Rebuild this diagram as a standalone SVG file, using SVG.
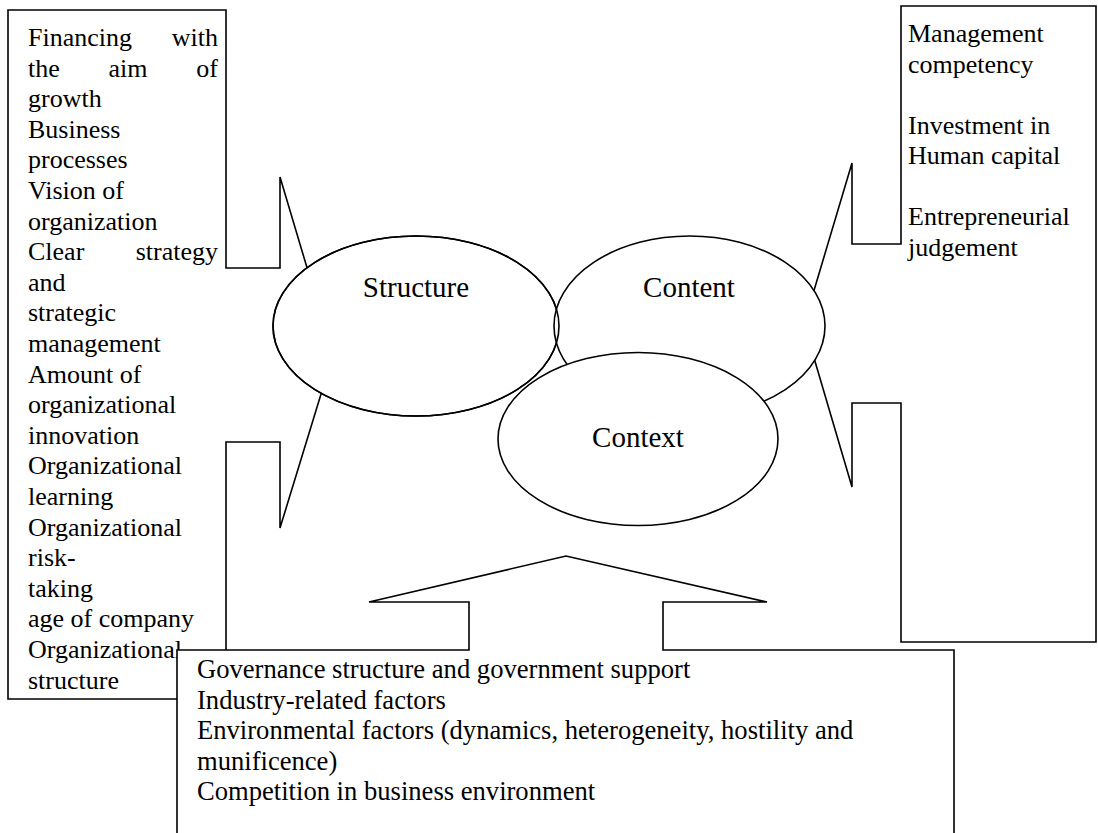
<svg xmlns="http://www.w3.org/2000/svg" width="1098" height="833" viewBox="0 0 1098 833">
<style>
.shape{fill:#fff;stroke:#000;stroke-width:1.6;stroke-linejoin:miter}
.outline{fill:none;stroke:#000;stroke-width:1.6}
.t{font-family:"Liberation Serif","Times New Roman",serif;font-size:26px;fill:#000}
.tb{font-family:"Liberation Serif","Times New Roman",serif;font-size:26.6px;fill:#000}
.lbl{font-family:"Liberation Serif","Times New Roman",serif;font-size:29px;fill:#000;text-anchor:middle}
.end{text-anchor:end}
</style>
<rect width="1098" height="833" fill="#fff"/>
<g id="connectors"></g>
<g id="structure-callout">
<polygon class="shape" points="8,10 226,10 226,268 280,268 280,177 333,355 280,528 280,442 226,442 226,699 8,699"/>
<text class="t" x="28" y="46">Financing</text><text class="t end" x="218" y="46">with</text>
<text class="t" x="28" y="76.6">the</text><text class="t" x="108.5" y="76.6">aim</text><text class="t end" x="218" y="76.6">of</text>
<text class="t" x="28" y="107.2">growth</text>
<text class="t" x="28" y="137.8">Business</text>
<text class="t" x="28" y="168.4">processes</text>
<text class="t" x="28" y="199">Vision of</text>
<text class="t" x="28" y="229.6">organization</text>
<text class="t" x="28" y="260.2">Clear</text><text class="t end" x="218" y="260.2">strategy</text>
<text class="t" x="28" y="290.8">and</text>
<text class="t" x="28" y="321.4">strategic</text>
<text class="t" x="28" y="352">management</text>
<text class="t" x="28" y="382.6">Amount of</text>
<text class="t" x="28" y="413.2">organizational</text>
<text class="t" x="28" y="443.8">innovation</text>
<text class="t" x="28" y="474.4">Organizational</text>
<text class="t" x="28" y="505">learning</text>
<text class="t" x="28" y="535.6">Organizational</text>
<text class="t" x="28" y="566.2">risk-</text>
<text class="t" x="28" y="596.8">taking</text>
<text class="t" x="28" y="627.4">age of company</text>
<text class="t" x="28" y="658">Organizational</text>
<text class="t" x="28" y="688.6">structure</text>
</g>
<g id="content-callout">
<polygon class="shape" points="901,6 1096,6 1096,642 901,642 901,403 852,403 852,487 804,324 852,163 852,244 901,244"/>
<text class="t" x="908" y="42">Management</text>
<text class="t" x="908" y="72.5">competency</text>
<text class="t" x="908" y="133.5">Investment in</text>
<text class="t" x="908" y="164">Human capital</text>
<text class="t" x="908" y="225">Entrepreneurial</text>
<text class="t" x="908" y="255.5">judgement</text>
</g>
<g id="structure">
<ellipse class="shape" cx="416" cy="326" rx="143" ry="90"/>
<text class="lbl" x="416" y="297">Structure</text>
</g>
<g id="content">
<ellipse class="shape" cx="689.5" cy="326" rx="135.5" ry="90"/>
<ellipse class="outline" cx="416" cy="326" rx="143" ry="90"/>
<text class="lbl" x="689" y="297">Content</text>
</g>
<g id="context">
<ellipse class="shape" cx="638" cy="439" rx="140" ry="86.5"/>
<text class="lbl" x="638" y="447">Context</text>
</g>
<g id="context-callout">
<polygon class="shape" points="177,650 469,650 469,602 369,602 566,556 767,602 663,602 663,650 954,650 954,845 177,845"/>
<text class="tb" x="197" y="678.3">Governance structure and government support</text>
<text class="tb" x="197" y="708.8">Industry-related factors</text>
<text class="tb" x="197" y="739.3">Environmental factors (dynamics, heterogeneity, hostility and</text>
<text class="tb" x="197" y="769.8">munificence)</text>
<text class="tb" x="197" y="800.3">Competition in business environment</text>
</g>
</svg>
